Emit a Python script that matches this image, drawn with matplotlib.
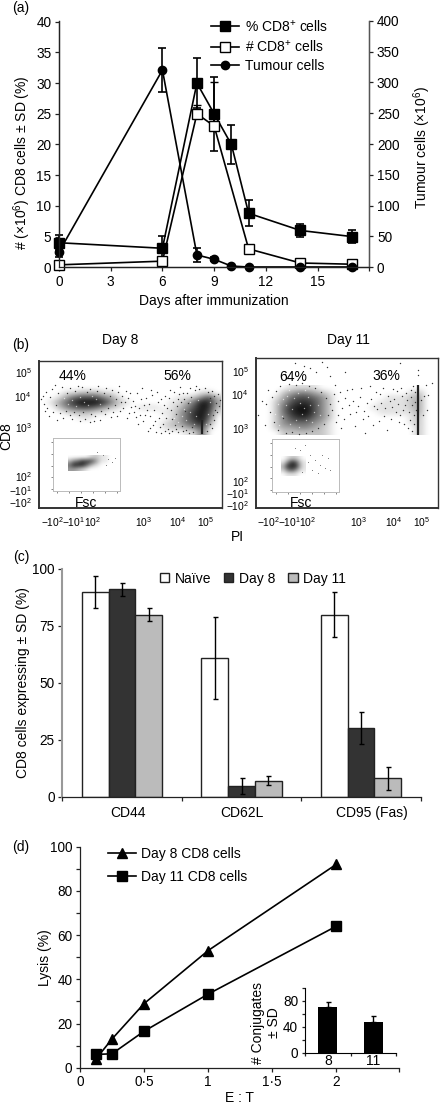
import numpy as np
import matplotlib
matplotlib.use('Agg')
import matplotlib.pyplot as plt
from matplotlib.patches import Patch
from matplotlib.lines import Line2D

plt.rcParams['font.family'] = ['Liberation Sans', 'DejaVu Sans']
plt.rcParams['mathtext.default'] = 'regular'
plt.rcParams['mathtext.fontset'] = 'custom'
plt.rcParams['mathtext.rm'] = 'Liberation Sans'
plt.rcParams['font.size'] = 9.6
plt.rcParams['axes.unicode_minus'] = True

W, H = 440, 1106
DARK = '#222222'
FS = 10
TS = 9.4

# ---------- panel (a)
days_pct = [0, 6, 8, 9, 10, 11, 14, 17]
pct_cd8 = [4, 3.1, 30, 25, 20, 8.8, 6, 5]
pct_err = [1.2, 2, 4.1, 6, 3.1, 2.1, 1.1, 1.1]
days_num = [0, 6, 8, 9, 11, 14, 17]
num_cd8 = [0.4, 1.0, 25, 23, 3, 0.7, 0.5]
num_err_up = [0.3, 0.5, 1.5, 7.2, 0.4, 0.2, 0.2]
days_tum = [0, 6, 8, 9, 10, 11, 14, 17]
tumour = [25, 320, 20, 13, 2, 0.5, 0.5, 0.5]
tumour_err = [8, 35, 11, 3, 0.5, 0.2, 0.2, 0.2]

# ---------- panel (b): darkness (0-9) per cell
cell_x_d8 = [40, 220]
cell_y = [385, 435]
dens_d8 = ["000000000000000000000000",
           "000112221100000000000110",
           "001356664310000000112462",
           "013578887421000001135873",
           "002456653210011101246872",
           "000122211000000011357861",
           "000001100000000001357850",
           "000000000000000012356830",
           "000000000000000012234610",
           "000000000000000000011500"]
cell_x_d11 = [258, 438]
dens_d11 = ["000011110000000000000000",
            "000234432100000000001200",
            "001356654200000001112300",
            "002467764200000011112300",
            "002578864200000111112300",
            "002578864200000011111300",
            "002467754200000000001200",
            "002455543100000000001200",
            "002334432100000000000200",
            "000222222100000000000200"]
dots_d8 = [(47, 408), (50, 397), (44, 404), (55, 385), (60, 413), (63, 418), (70, 388), (78, 386), (82, 387), (90, 389),
           (98, 386), (106, 388), (112, 390), (118, 392), (122, 396), (125, 402), (128, 398), (131, 407), (134, 412),
           (137, 393), (141, 399), (144, 405), (147, 410), (150, 416), (152, 395), (155, 421), (158, 402), (160, 427),
           (162, 413), (165, 396), (167, 408), (170, 390), (172, 419), (175, 425), (178, 399), (180, 387), (183, 393),
           (186, 430), (150, 428), (156, 432), (165, 431), (172, 431), (178, 432), (190, 388), (195, 390), (205, 388),
           (212, 391), (218, 394), (220, 400), (217, 412), (214, 420), (212, 428), (57, 420), (70, 415), (85, 419),
           (95, 416), (105, 414), (115, 405), (120, 411), (127, 418), (138, 424), (143, 421),
           (41, 399), (46, 392), (52, 389), (53, 412), (49, 416), (58, 393), (62, 387), (66, 411), (72, 419), (75, 391),
           (79, 415), (83, 412), (87, 392), (91, 414), (94, 421), (97, 391), (101, 411), (104, 393), (108, 408), (110, 396),
           (113, 412), (116, 399), (119, 386), (123, 408), (126, 391), (129, 413), (133, 401), (136, 417), (139, 408),
           (142, 388), (146, 398), (149, 404), (151, 390), (154, 410), (157, 392), (159, 418), (161, 399), (163, 424),
           (164, 405), (166, 418), (168, 429), (169, 398), (171, 410), (173, 402), (174, 392), (176, 414), (177, 406),
           (179, 394), (181, 402), (182, 426), (184, 399), (185, 411), (187, 393), (188, 403), (189, 433), (191, 397),
           (193, 432), (196, 386), (199, 389), (208, 392), (210, 398), (214, 396), (216, 403), (219, 406), (215, 410),
           (213, 415), (210, 424), (207, 431), (192, 427), (183, 431), (176, 429), (169, 433), (161, 433), (153, 425),
           (148, 431), (145, 415), (140, 415), (135, 406), (130, 393), (121, 402), (117, 416), (111, 417), (100, 420),
           (90, 422), (80, 421), (74, 412), (67, 393), (56, 405), (45, 411), (43, 396)]
holes_d8 = [(72, 400), (80, 397), (88, 405), (96, 399), (76, 406), (84, 402), (92, 396), (68, 404), (100, 404), (64, 398),
            (190, 412), (186, 420), (194, 424), (198, 400), (182, 416), (190, 402), (178, 422), (210, 402), (208, 414),
            (184, 409), (196, 416), (174, 418), (206, 424)]
dots_d11 = [(262, 401), (258, 415), (265, 425), (268, 390), (304, 366), (310, 368), (316, 372), (322, 362), (327, 367),
            (285, 374), (295, 363), (330, 376), (335, 385), (340, 392), (345, 398), (349, 405), (352, 389), (356, 412),
            (360, 397), (363, 419), (367, 403), (370, 386), (373, 425), (377, 409), (380, 394), (384, 416), (387, 430),
            (390, 401), (393, 389), (396, 412), (399, 422), (402, 396), (405, 405), (408, 428), (411, 390), (414, 415),
            (424, 396), (427, 410), (426, 385), (418, 370), (418, 375), (432, 383), (400, 363), (345, 372), (338, 415),
            (341, 428), (355, 426), (365, 433),
            (266, 404), (270, 412), (272, 397), (274, 422), (276, 391), (278, 430), (280, 386), (283, 418), (286, 433),
            (289, 384), (292, 432), (296, 385), (299, 434), (302, 383), (306, 433), (309, 386), (312, 431), (315, 388),
            (318, 428), (321, 392), (324, 424), (326, 398), (328, 415), (330, 404), (332, 410), (334, 394), (336, 422),
            (338, 401), (342, 408), (344, 419), (347, 390), (350, 414), (353, 401), (358, 406), (361, 388), (364, 411),
            (368, 416), (371, 399), (374, 406), (376, 392), (379, 421), (381, 403), (383, 388), (385, 408), (388, 396),
            (391, 419), (392, 407), (394, 399), (397, 391), (398, 404), (400, 415), (401, 388), (403, 410), (404, 424),
            (406, 393), (407, 400), (409, 412), (410, 420), (411, 397), (412, 405), (413, 386), (415, 392), (415, 402),
            (414, 424), (416, 410), (412, 431), (421, 400), (423, 415), (428, 395)]
holes_d11 = [(286, 405), (294, 398), (302, 414), (310, 405), (282, 416), (290, 424), (298, 393), (306, 420), (314, 412),
             (278, 404), (292, 409), (300, 403), (287, 396), (308, 397), (318, 405), (296, 420), (275, 414), (304, 408),
             (283, 399), (312, 422), (320, 415), (299, 427), (289, 390), (305, 390), (279, 425)]
sat_d8 = [202, 420, 434]
sat_d11 = [417.7, 385, 435]

inset_d8_cells = ["00000122110", "35688863110", "69997421000", "44321000000"]
inset_d8_x, inset_d8_y = [68, 112], [455, 471]
inset_d11_cells = ["012210", "148731", "389941", "257521", "011100"]
inset_d11_x, inset_d11_y = [281, 305], [456, 476]
inset_dots_d8_x = [108, 112, 106, 103, 97, 115]
inset_dots_d8_y = [459, 462, 465, 455, 452, 458]
inset_dots_d11_x = [300, 305, 310, 315, 320, 325, 312, 318, 328, 308, 302, 295, 330, 322]
inset_dots_d11_y = [450, 445, 455, 460, 465, 468, 470, 473, 458, 462, 472, 448, 470, 455]

ytick_d8 = [371.7, 396, 427.3, 475.7, 490, 501.7]
ytick_d11 = [371, 394, 428, 480.7, 493.3, 505]
xtick_d8 = [52.7, 74, 93, 143.3, 177.7, 205.7]
xtick_d11 = [268.3, 290, 308, 359, 394, 422]
ylabs_flow = [r'$10^{5}$', r'$10^{4}$', r'$10^{3}$', r'$10^{2}$', r'$-10^{1}$', r'$-10^{2}$']
xlabs_flow = [r'$-10^{2}$', r'$-10^{1}$', r'$10^{2}$', r'$10^{3}$', r'$10^{4}$', r'$10^{5}$']

# ---------- panel (c)
markers_c = ['CD44', 'CD62L', 'CD95 (Fas)']
naive = [90, 61, 80]
naive_err = [7, 18, 10]
day8 = [91, 4.5, 30]
day8_err = [3, 3.5, 7]
day11 = [80, 7, 8]
day11_err = [3, 2, 5]

# ---------- panel (d)
et_ratio = [0.125, 0.25, 0.5, 1, 2]
lysis_d8 = [4, 13, 29, 53, 92]
lysis_d11 = [6, 6.3, 16.5, 33.3, 64]
conj_labels = ['8', '11']
conj = [70, 47]
conj_err = [7.5, 9]


def axpx(x0, y0, x1, y1):
    """axes from pixel box (y from the top)"""
    return fig.add_axes([x0 / W, 1 - y1 / H, (x1 - x0) / W, (y1 - y0) / H])


def ftext(x, y, s, **kw):
    kw.setdefault('ha', 'center')
    kw.setdefault('va', 'center')
    fig.text(x / W, 1 - y / H, s, **kw)


def cells(rows):
    return np.array([[int(c) for c in r.ljust(len(rows[0]), '0')] for r in rows], float)


fig = plt.figure(figsize=(W / 100, H / 100), dpi=100)

# ===== (a)
ax = axpx(59, 20.7, 369.3, 267.3)
ax2 = ax.twinx()
ax2.set_zorder(3)
ax.set_zorder(2)
ax2.patch.set_visible(False)
ax.set_xlim(0, 18)
ax.set_ylim(0, 40.16)
ax2.set_ylim(0, 400)
lkw = dict(color='black', lw=1.2, capsize=2.6, capthick=1.2, elinewidth=1.2, clip_on=False)
ax.errorbar(days_pct, pct_cd8, yerr=pct_err, marker='s', ms=6.6, mfc='black', mec='black', **lkw)
ax.errorbar(days_num, num_cd8, yerr=[[0] * len(num_err_up), num_err_up], marker='s', ms=6.6, mfc='white',
            mec='black', mew=1.0, zorder=4, **lkw)
ax2.errorbar(days_tum, tumour, yerr=tumour_err, marker='o', ms=6.0, mfc='black', mec='black', **lkw)
ax.set_xticks([0, 3, 6, 9, 12, 15, 18], ['0', '3', '6', '9', '12', '15', ''])
ax.set_yticks(range(0, 41, 5))
ax2.set_yticks(range(0, 401, 50))
for a in (ax, ax2):
    a.spines['top'].set_visible(False)
    a.tick_params(length=3, width=0.9, color=DARK, pad=2.5, labelsize=TS + 0.4)
    for s in a.spines.values():
        s.set_linewidth(0.9)
        s.set_color(DARK)
ax2.spines['right'].set_color('#555555')
handles_a = [Line2D([], [], color='black', lw=1.2, marker='s', ms=6.6, mfc='black', mec='black', label='% CD8$^{+}$ cells'),
             Line2D([], [], color='black', lw=1.2, marker='s', ms=6.6, mfc='white', mec='black', label='# CD8$^{+}$ cells'),
             Line2D([], [], color='black', lw=1.2, marker='o', ms=6.0, mfc='black', mec='black', label='Tumour cells')]
ax2.legend(handles=handles_a, loc='upper left', bbox_to_anchor=((211 - 59) / 310.3, 1.01), frameon=False,
           handlelength=2.0, labelspacing=0.3, handletextpad=0.45, fontsize=FS, borderpad=0, borderaxespad=0)
ftext(22, 163, '# (×10$^{6}$) CD8 cells ± SD (%)', rotation=90, fontsize=FS)
ftext(421.7, 147, 'Tumour cells (×10$^{6}$)', rotation=90, fontsize=FS)
ftext(213.5, 301, 'Days after immunization', fontsize=FS)

# ===== (b)
flow = [
    dict(box=(38.7, 360.7, 222, 508.3), dens=dens_d8, cx=cell_x_d8, dots=dots_d8, holes=holes_d8, sat=sat_d8,
         yt=ytick_d8, xt=xtick_d8, ibox=(53, 438, 120, 491), ic=inset_d8_cells, ix=inset_d8_x, iy=inset_d8_y,
         idx=inset_dots_d8_x, idy=inset_dots_d8_y),
    dict(box=(255.7, 357.7, 438, 508.3), dens=dens_d11, cx=cell_x_d11, dots=dots_d11, holes=holes_d11, sat=sat_d11,
         yt=ytick_d11, xt=xtick_d11, ibox=(271.7, 439.3, 338.7, 491.7), ic=inset_d11_cells, ix=inset_d11_x,
         iy=inset_d11_y, idx=inset_dots_d11_x, idy=inset_dots_d11_y),
]
for f in flow:
    x0, y0, x1, y1 = f['box']
    a = axpx(x0, y0, x1, y1)
    a.imshow(cells(f['dens']), cmap='gray_r', vmin=0, vmax=8.6, extent=[f['cx'][0], f['cx'][1], cell_y[1], cell_y[0]],
             interpolation='bicubic', aspect='auto', zorder=1)
    dx, dy = zip(*f['dots'])
    a.scatter(dx, dy, s=1.0, color='#333333', lw=0, zorder=2)
    hx, hy = zip(*f['holes'])
    a.scatter(hx, hy, s=1.0, color='white', alpha=0.6, lw=0, zorder=2)
    a.vlines(f['sat'][0], f['sat'][1], f['sat'][2], color='#222222', lw=1.6, zorder=3)
    a.set_xlim(x0, x1)
    a.set_ylim(y1, y0)
    a.set_xticks(f['xt'], xlabs_flow, fontsize=7.4)
    a.set_yticks(f['yt'], ylabs_flow, fontsize=7.4)
    a.tick_params(length=0, pad=5)
    for s in a.spines.values():
        s.set_color('#333333')
        s.set_linewidth(1.0)
    a.spines['left'].set_linewidth(1.4)
    a.spines['bottom'].set_linewidth(1.4)
    ix0, iy0, ix1, iy1 = f['ibox']
    b = axpx(ix0, iy0, ix1, iy1)
    b.set_zorder(4)
    b.imshow(cells(f['ic']), cmap='gray_r', vmin=0, vmax=10.5, extent=[f['ix'][0], f['ix'][1], f['iy'][1], f['iy'][0]],
             interpolation='bicubic', aspect='auto')
    b.scatter(f['idx'], f['idy'], s=0.5, color='#777777', lw=0)
    b.set_xlim(ix0, ix1)
    b.set_ylim(iy1, iy0)
    b.set_xticks(np.linspace(ix0 + 4, ix1 - 3, 6), [])
    b.set_yticks(np.linspace(iy0 + 4, iy1 - 2, 5), [])
    b.tick_params(length=1.2, width=0.5, color='#555555', direction='out')
    for s in b.spines.values():
        s.set_color('#bbbbbb')
        s.set_linewidth(0.7)
ftext(120, 340, 'Day 8', fontsize=FS)
ftext(348, 340, 'Day 11', fontsize=FS)
ftext(73, 376, '44%', fontsize=FS)
ftext(177, 376, '56%', fontsize=FS)
ftext(293, 376.7, '64%', fontsize=FS)
ftext(386.7, 376, '36%', fontsize=FS)
ftext(85.7, 503, 'Fsc', fontsize=FS)
ftext(301, 503, 'Fsc', fontsize=FS)
ftext(237.7, 536.7, 'PI', fontsize=FS)
ftext(6, 435.7, 'CD8', rotation=90, fontsize=FS)

# ===== (c)
ax = axpx(62.3, 569, 420.7, 796.7)
pos = np.arange(len(markers_c), dtype=float)
bw = 0.2235
ekw = dict(capsize=1.8, error_kw=dict(elinewidth=1.0, capthick=1.0, ecolor='black'))
for off, v, e, col in [(-bw, naive, naive_err, 'white'), (0, day8, day8_err, '#333333'), (bw, day11, day11_err, '#bbbbbb')]:
    ax.bar(pos + off, v, bw, yerr=e, color=col, edgecolor='#222222', linewidth=1.0, **ekw)
ax.set_xlim(-0.5, 2.5)
ax.set_ylim(0, 100)
ax.set_yticks([0, 25, 50, 75, 100])
ax.set_xticks([-0.5, 0.5, 1.5, 2.5], [])
ax.tick_params(length=3, width=0.9, color=DARK, pad=2.5, labelsize=TS + 0.4)
ax.spines['top'].set_visible(False)
ax.spines['right'].set_visible(False)
ax.spines['left'].set_color('#999999')
ax.spines['left'].set_linewidth(1.5)
ax.spines['bottom'].set_color(DARK)
ax.spines['bottom'].set_linewidth(0.9)
for i, (lab, dx) in enumerate(zip(markers_c, [5.5, 0, 10.5])):
    ax.annotate(lab, (pos[i], 0), xytext=(dx * 0.72, -11.5), textcoords='offset points', ha='center', va='center', fontsize=FS)
hs = [Patch(fc='white', ec='#222222', lw=1.0, label='Naïve'), Patch(fc='#333333', ec='#222222', lw=1.0, label='Day 8'),
      Patch(fc='#bbbbbb', ec='#222222', lw=1.0, label='Day 11')]
ax.legend(handles=hs, ncol=3, loc='center', bbox_to_anchor=((253 - 62.3) / 358.4, (796.7 - 578.7) / 227.7), frameon=False,
          handlelength=0.65, handleheight=0.65, handletextpad=0.4, columnspacing=0.95, fontsize=FS, borderpad=0, borderaxespad=0)
ftext(23, 683, 'CD8 cells expressing ± SD (%)', rotation=90, fontsize=FS)

# ===== (d)
ax = axpx(80, 846.7, 399, 1067.7)
ax.plot(et_ratio, lysis_d8, '-^', color='black', lw=1.2, ms=7.6, label='Day 8 CD8 cells', clip_on=False)
ax.plot(et_ratio, lysis_d11, '-s', color='black', lw=1.2, ms=7.2, label='Day 11 CD8 cells', clip_on=False)
ax.set_xlim(0, 2.49)
ax.set_ylim(0, 100)
ax.set_xticks([0, 0.5, 1, 1.5, 2, 2.49], ['0', '0·5', '1', '1·5', '2', ''])
ax.set_yticks(range(0, 101, 20))
ax.set_yticks(range(10, 100, 20), minor=True)
ax.tick_params(which='both', length=3, width=0.9, color=DARK, pad=2.5, labelsize=TS + 0.4)
ax.spines['top'].set_visible(False)
ax.spines['right'].set_visible(False)
for s in ('left', 'bottom'):
    ax.spines[s].set_linewidth(0.9)
    ax.spines[s].set_color(DARK)
ax.legend(loc='upper left', bbox_to_anchor=((108 - 80) / 319, 1.0), frameon=False, handlelength=2.0, labelspacing=0.65,
          handletextpad=0.4, fontsize=FS, borderpad=0, borderaxespad=0)
ftext(45, 958, 'Lysis (%)', rotation=90, fontsize=FS)
ftext(239, 1098, 'E : T', fontsize=FS)

ins = axpx(305, 987.8, 396, 1052.7)
ipos = np.arange(len(conj_labels))
ins.bar(ipos, conj, 0.42, yerr=[[0, 0], conj_err], color='black', capsize=1.8,
        error_kw=dict(elinewidth=1.0, capthick=1.0, ecolor='black'))
ins.set_xlim(-0.5, 1.5)
ins.set_ylim(0, 100)
ins.set_yticks([0, 40, 80])
ins.set_yticks([20, 60, 100], minor=True)
ins.set_xticks([-0.5, 0.5, 1.5], [])
ins.tick_params(which='both', length=2.5, width=0.9, color=DARK, pad=2.5, labelsize=TS + 0.4)
ins.spines['top'].set_visible(False)
ins.spines['right'].set_visible(False)
for i, lab in enumerate(conj_labels):
    ins.annotate(lab, (ipos[i], 0), xytext=(0, -6), textcoords='offset points', ha='center', va='center', fontsize=FS)
ftext(266, 1023, '# Conjugates\n± SD', rotation=90, fontsize=FS, linespacing=1.1)

for lab, y in [('(a)', 8), ('(b)', 345), ('(c)', 557), ('(d)', 847)]:
    ftext(21, y, lab, fontsize=FS)

fig.savefig('out.png', dpi=100)
